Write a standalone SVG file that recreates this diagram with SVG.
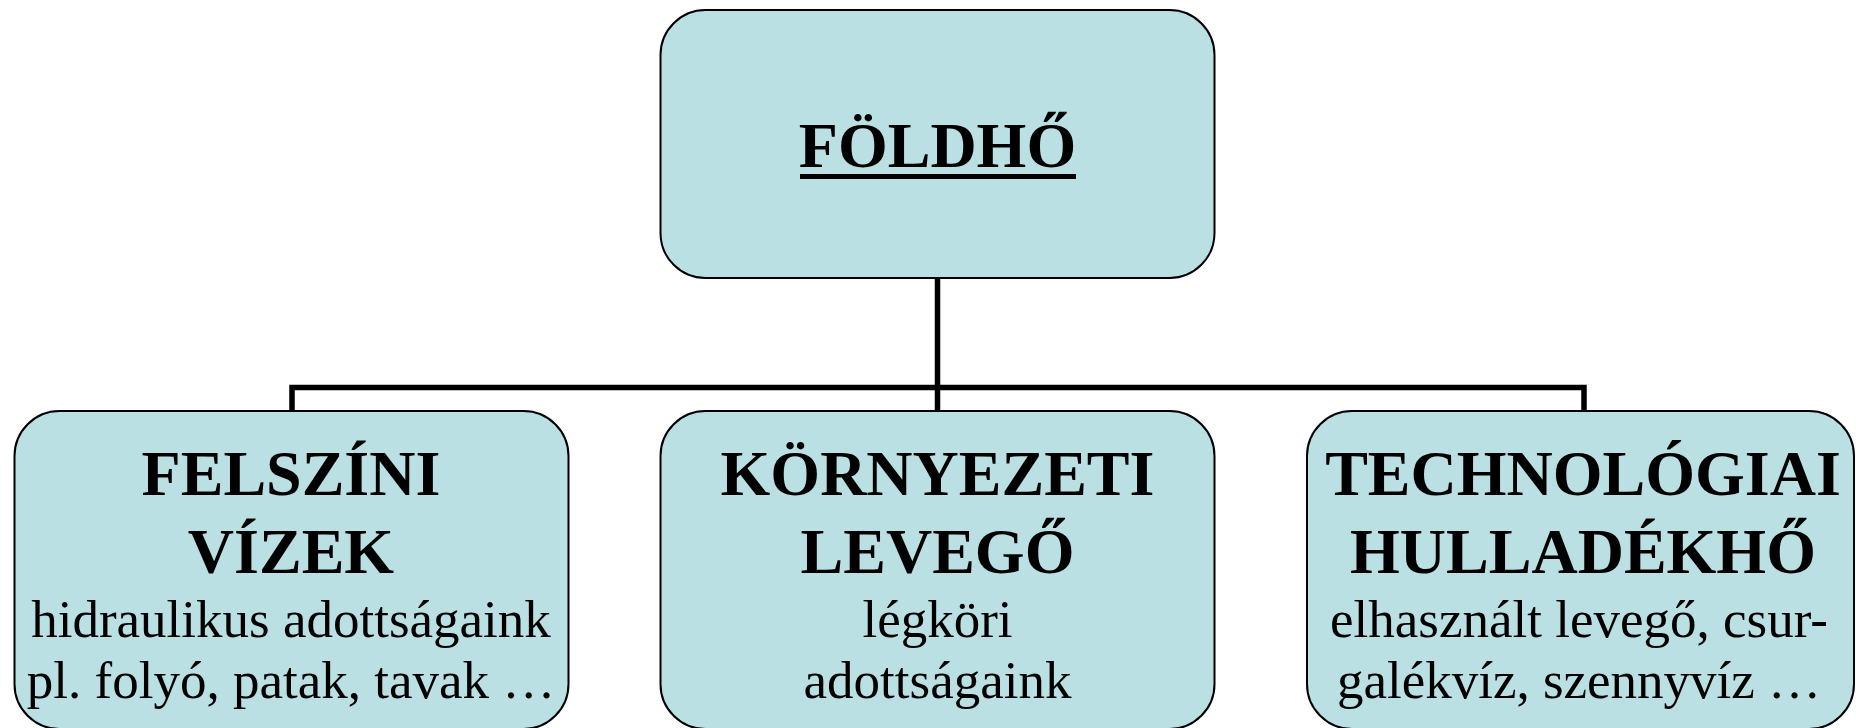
<svg xmlns="http://www.w3.org/2000/svg" width="1856" height="728" viewBox="0 0 1856 728">
<style>
.box{fill:#BAE0E3;stroke:#000;stroke-width:2}
.h{font-family:"Liberation Serif","Times New Roman",serif;font-weight:bold;font-size:64px;text-anchor:middle;fill:#000}
.t{font-family:"Liberation Serif","Times New Roman",serif;font-size:53px;text-anchor:middle;fill:#000}
.c{fill:none;stroke:#000;stroke-width:5.5}
</style>
<rect width="1856" height="728" fill="#fff"/>
<g id="connectors">
<path class="c" d="M937.5 278 V387.5 M292 411 V387.5 H1584 V411 M937.5 387.5 V411"/>
</g>
<g id="foldho">
<rect class="box" x="660.5" y="10" width="554" height="268" rx="45"/>
<text class="h" x="937.5" y="167">FÖLDHŐ</text>
<rect x="800" y="174" width="276" height="5" fill="#000"/>
</g>
<g id="felszini">
<rect class="box" x="14.5" y="411" width="554" height="318" rx="45"/>
<text class="h" x="291" y="495">FELSZÍNI</text>
<text class="h" x="291" y="573">VÍZEK</text>
<text class="t" x="291" y="637">hidraulikus adottságaink</text>
<text class="t" x="291" y="698">pl. folyó, patak, tavak …</text>
</g>
<g id="kornyezeti">
<rect class="box" x="660.5" y="411" width="554" height="318" rx="45"/>
<text class="h" x="937.5" y="495">KÖRNYEZETI</text>
<text class="h" x="937.5" y="573">LEVEGŐ</text>
<text class="t" x="937.5" y="637">légköri </text>
<text class="t" x="937.5" y="698">adottságaink</text>
</g>
<g id="technologiai">
<rect class="box" x="1307" y="411" width="547" height="318" rx="45"/>
<text class="h" x="1583" y="495">TECHNOLÓGIAI</text>
<text class="h" x="1583" y="573">HULLADÉKHŐ</text>
<text class="t" x="1579" y="637">elhasznált levegő, csur-</text>
<text class="t" x="1579" y="698">galékvíz, szennyvíz …</text>
</g>
</svg>
